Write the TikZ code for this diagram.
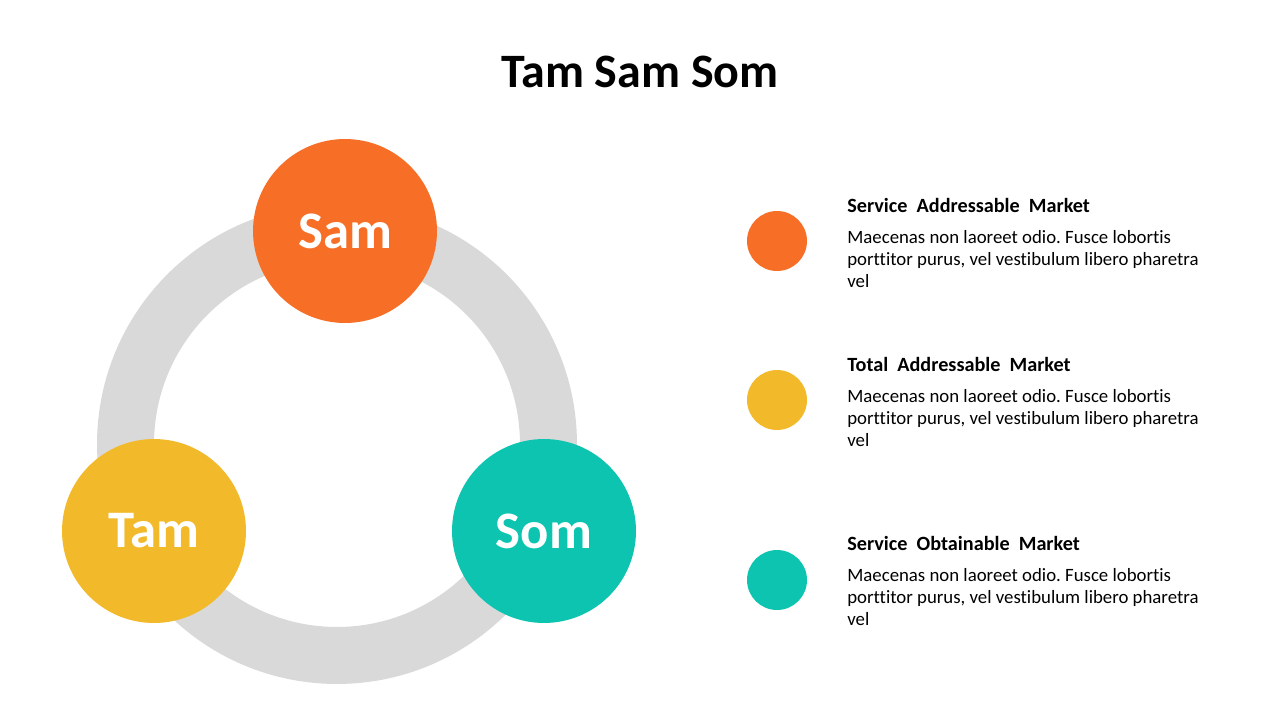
\documentclass[tikz,border=0pt]{standalone}
\usepackage{fontspec}
\setmainfont[Ligatures=NoCommon]{Carlito}
\frenchspacing
\usetikzlibrary{positioning}

\definecolor{samorange}{HTML}{F76E26}
\definecolor{tamyellow}{HTML}{F2B92B}
\definecolor{somteal}{HTML}{0CC4AF}
\definecolor{ringgray}{HTML}{D9D9D9}

\begin{document}
\begin{tikzpicture}[
  x=0.02cm, y=-0.02cm,
  bigdot/.style={circle, minimum size=3.68cm, inner sep=0pt, text=white,
    font=\fontsize{30}{36}\selectfont\bfseries},
  keydot/.style={circle, minimum size=1.2cm, inner sep=0pt},
  keyhead/.style={anchor=base west, inner sep=0pt,
    font=\fontsize{11.5}{14}\selectfont\bfseries},
  keytext/.style={anchor=north west, inner sep=0pt, align=left,
    font=\fontsize{10.7}{12.5}\selectfont},
]

\useasboundingbox (0,0) rectangle (1280,720);

% --- Title ---
\node[anchor=base, font=\fontsize{27.3}{33}\selectfont\bfseries] (title) at (640,87) {Tam Sam Som};

% --- Ring ---
\def\ringX{337}
\def\ringY{444}
\fill[ringgray, even odd rule] (\ringX,\ringY) circle[radius=4.8cm] (\ringX,\ringY) circle[radius=3.66cm];

% Circles on ring
\node[bigdot, fill=samorange] (sam) at (345,231) {Sam};
\node[bigdot, fill=tamyellow] (tam) at (154,531) {Tam};
\node[bigdot, fill=somteal] (som) at (544,531) {Som};

% --- Legend ---
\node[keydot, fill=samorange] (samkey) at (777,241) {};
\node[keyhead] (samhead) at (847,212) {Service\ \ Addressable\ \ Market};
\node[keytext] (samtext) at (847,230) {Maecenas non laoreet odio. Fusce lobortis\\porttitor purus, vel vestibulum libero pharetra\\vel};

\node[keydot, fill=tamyellow] (tamkey) at (777,400) {};
\node[keyhead] (tamhead) at (847,371) {Total\ \ Addressable\ \ Market};
\node[keytext] (tamtext) at (847,389) {Maecenas non laoreet odio. Fusce lobortis\\porttitor purus, vel vestibulum libero pharetra\\vel};

\node[keydot, fill=somteal] (somkey) at (777,580) {};
\node[keyhead] (somhead) at (847,550) {Service\ \ Obtainable\ \ Market};
\node[keytext] (somtext) at (847,568) {Maecenas non laoreet odio. Fusce lobortis\\porttitor purus, vel vestibulum libero pharetra\\vel};

\end{tikzpicture}
\end{document}
